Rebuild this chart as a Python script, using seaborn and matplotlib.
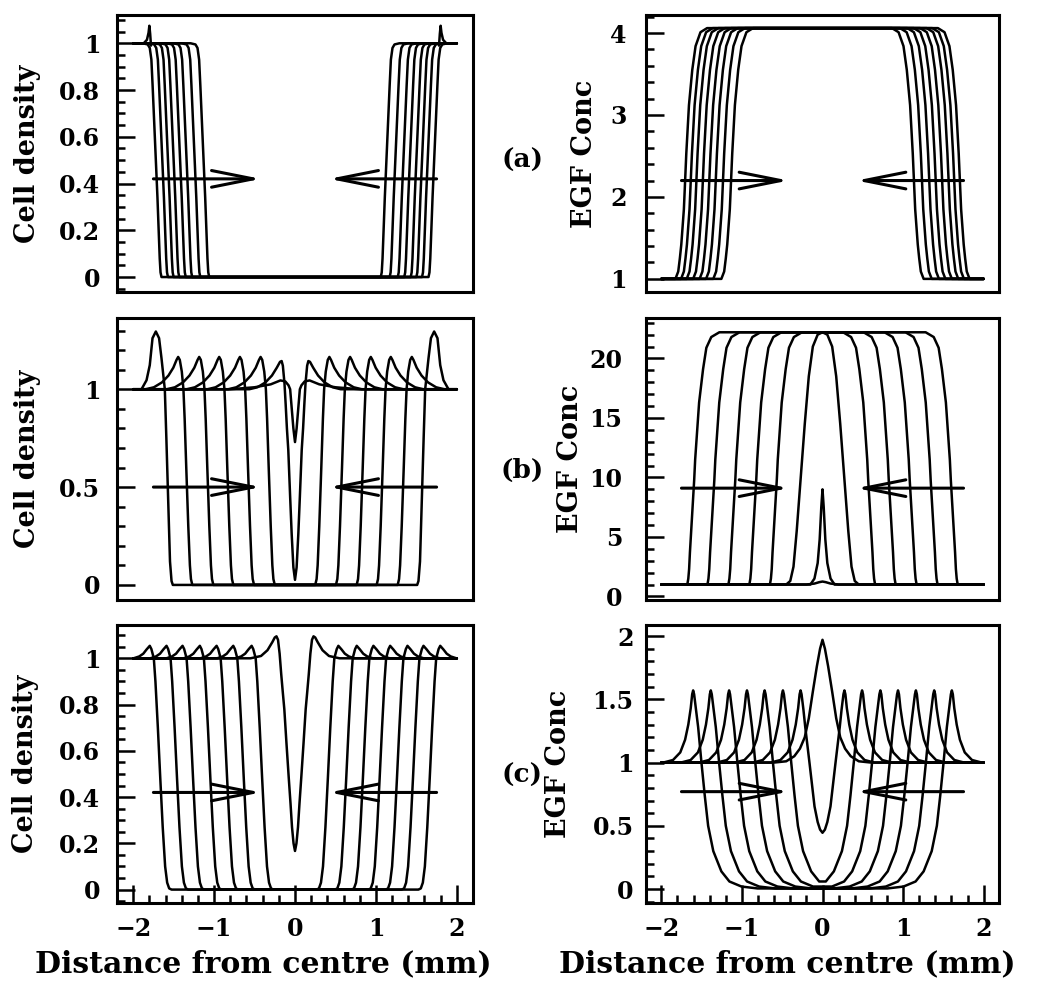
import numpy as np
import pandas as pd
import seaborn as sns
import matplotlib
matplotlib.use("Agg")
import matplotlib.pyplot as plt
from matplotlib.ticker import MultipleLocator, FuncFormatter

# x in mm. only the left half of each profile is listed, the right half
# of every panel is the mirror image of it
domain = (-2.0, 2.0)

# ---- (a) cell density: fronts at the 0.5 level + one common front shape
a_cell_fronts = [-1.72, -1.64, -1.57, -1.50, -1.42, -1.34, -1.24, -1.13]
a_cell_prof_x = [-0.16, -0.10, -0.075, -0.055, -0.04, -0.02, 0.0, 0.02, 0.035, 0.048, 0.058, 0.07]
a_cell_prof_y = [1.0, 0.995, 0.98, 0.93, 0.82, 0.66, 0.5, 0.34, 0.2, 0.08, 0.02, 0.0]
a_spike_x = [-1.87, -1.83, -1.81, -1.80, -1.79, -1.78]
a_spike_y = [1.0, 1.015, 1.045, 1.075, 1.04, 0.99]

# ---- (a) EGF
a_egf_fronts = [-1.69, -1.62, -1.55, -1.47, -1.39, -1.31, -1.22, -1.12]
a_egf_prof_x = [-0.135, -0.10, -0.08, -0.062, -0.03, 0.0, 0.033, 0.074, 0.115, 0.176, 0.258]
a_egf_prof_y = [1.0, 1.09, 1.25, 1.42, 1.85, 2.53, 3.12, 3.55, 3.84, 4.01, 4.06]

# ---- (b) cell density: peak positions + sawtooth shape
b_cell_peaks = [-1.444, -1.184, -0.937, -0.681, -0.425]
b_cell_prof_x = [-0.40, -0.30, -0.20, -0.12, -0.06, -0.02, 0.0, 0.02, 0.045, 0.065, 0.08, 0.10, 0.125, 0.145, 0.158, 0.175]
b_cell_prof_y = [1.0, 1.01, 1.035, 1.07, 1.11, 1.15, 1.165, 1.15, 1.09, 1.0, 0.85, 0.6, 0.3, 0.1, 0.03, 0.0]
b_cell_first_x = [-1.897, -1.835, -1.795, -1.761, -1.72, -1.68, -1.65, -1.63, -1.609, -1.59, -1.565, -1.545, -1.526, -1.51]
b_cell_first_y = [1.0, 1.046, 1.123, 1.261, 1.295, 1.261, 1.158, 1.081, 1.0, 0.75, 0.4, 0.12, 0.02, 0.0]
b_cell_meet_x = [-0.565, -0.465, -0.365, -0.285, -0.225, -0.185, -0.165, -0.15, -0.13, -0.115, -0.10, -0.083, -0.06, -0.041, -0.02, 0.0]
b_cell_meet_y = [1.0, 1.01, 1.035, 1.07, 1.11, 1.14, 1.144, 1.12, 1.03, 0.92, 0.8, 0.69, 0.45, 0.26, 0.09, 0.026]
b_cell_heal_x = [-0.8, -0.5, -0.3, -0.18, -0.12, -0.08, -0.06, -0.04, -0.02, 0.0]
b_cell_heal_y = [1.0, 1.01, 1.025, 1.045, 1.04, 1.02, 1.0, 0.9, 0.8, 0.73]

# ---- (b) EGF
b_egf_fronts = [-1.58, -1.33, -1.07, -0.81, -0.555]
b_egf_prof_x = [-0.106, -0.095, -0.085, -0.075, -0.065, -0.012, 0.0, 0.049, 0.098, 0.139, 0.2, 0.3]
b_egf_prof_y = [1.0, 1.1, 1.5, 2.3, 3.7, 9.8, 11.5, 16.3, 19.1, 20.9, 21.8, 22.2]
b_egf_bump_x = [-0.45, -0.40, -0.36, -0.32, -0.27, -0.22, -0.17, -0.12, -0.06, 0.0]
b_egf_bump_y = [1.0, 1.3, 2.5, 5.5, 10.0, 14.5, 18.5, 21.0, 22.0, 22.2]
b_egf_spike_x = [-0.15, -0.10, -0.06, -0.035, -0.015, 0.0]
b_egf_spike_y = [1.0, 1.5, 2.8, 4.8, 7.5, 9.0]
b_egf_flat_x = [-0.2, -0.1, -0.04, 0.0]
b_egf_flat_y = [1.0, 1.08, 1.2, 1.25]

# ---- (c) cell density
c_cell_peaks = [-1.795, -1.588, -1.39, -1.176, -0.969, -0.763, -0.536]
c_cell_prof_x = [-0.20, -0.13, -0.08, -0.04, 0.0, 0.02, 0.05, 0.07, 0.10, 0.13, 0.16, 0.19, 0.215, 0.24, 0.27]
c_cell_prof_y = [1.0, 1.008, 1.02, 1.038, 1.054, 1.04, 1.0, 0.9, 0.7, 0.48, 0.27, 0.1, 0.03, 0.005, 0.0]
c_cell_meet_x = [-0.55, -0.42, -0.34, -0.28, -0.25, -0.229, -0.21, -0.19, -0.17, -0.15, -0.132, -0.105, -0.078, -0.055, -0.037, -0.018, 0.0]
c_cell_meet_y = [1.0, 1.01, 1.035, 1.07, 1.09, 1.095, 1.08, 1.02, 0.93, 0.85, 0.78, 0.63, 0.487, 0.37, 0.27, 0.2, 0.167]

# ---- (c) EGF
c_egf_peaks = [-1.605, -1.386, -1.159, -0.937, -0.718, -0.491]
c_egf_prof_x = [-0.37, -0.25, -0.16, -0.10, -0.06, -0.03, -0.012, 0.0, 0.012, 0.035, 0.062, 0.103, 0.144, 0.186, 0.25, 0.35, 0.45, 0.6, 0.8]
c_egf_prof_y = [1.0, 1.02, 1.08, 1.18, 1.3, 1.43, 1.54, 1.57, 1.54, 1.42, 1.28, 1.0, 0.74, 0.5, 0.3, 0.14, 0.06, 0.02, 0.005]
c_egf_last_x = [-0.642, -0.522, -0.432, -0.372, -0.332, -0.302, -0.284, -0.272, -0.26, -0.237, -0.214, -0.16, -0.099, -0.06, -0.03, 0.0]
c_egf_last_y = [1.0, 1.02, 1.08, 1.18, 1.3, 1.43, 1.54, 1.57, 1.54, 1.42, 1.28, 0.99, 0.653, 0.53, 0.47, 0.445]
c_egf_centre_x = [-0.6, -0.45, -0.35, -0.28, -0.22, -0.17, -0.12, -0.07, -0.03, 0.0]
c_egf_centre_y = [1.0, 1.01, 1.05, 1.11, 1.2, 1.35, 1.56, 1.76, 1.9, 1.97]

# arrows (same x in every panel), height per panel
arrow_tail = 1.75
arrow_tip = 0.42
arrow_y = {"a_cell": 0.42, "a_egf": 2.2, "b_cell": 0.5, "b_egf": 9.1, "c_cell": 0.42, "c_egf": 0.77}


def mirrored(xs, ys):
    left = [(x, y) for x, y in zip(xs, ys) if x < 0]
    mid = [(x, y) for x, y in zip(xs, ys) if x == 0]
    right = [(-x, y) for x, y in reversed(left)]
    pts = [(domain[0], ys[0])] + left + mid + right + [(domain[1], ys[0])]
    return [p[0] for p in pts], [p[1] for p in pts]


def fronts(centres, prof_x, prof_y):
    return [mirrored([c + o for o in prof_x], prof_y) for c in centres]


def to_frame(curves):
    rows = []
    for i, (xs, ys) in enumerate(curves):
        rows += [(i, x, y) for x, y in zip(xs, ys)]
    return pd.DataFrame(rows, columns=["curve", "x", "y"])


panels = {
    "a_cell": fronts(a_cell_fronts, a_cell_prof_x, a_cell_prof_y)
              + [(a_spike_x, a_spike_y), ([-x for x in a_spike_x[::-1]], a_spike_y[::-1])],
    "a_egf": fronts(a_egf_fronts, a_egf_prof_x, a_egf_prof_y),
    "b_cell": [mirrored(b_cell_first_x, b_cell_first_y)]
              + fronts(b_cell_peaks, b_cell_prof_x, b_cell_prof_y)
              + [mirrored(b_cell_meet_x, b_cell_meet_y), mirrored(b_cell_heal_x, b_cell_heal_y)],
    "b_egf": fronts(b_egf_fronts, b_egf_prof_x, b_egf_prof_y)
             + [mirrored(b_egf_bump_x, b_egf_bump_y), mirrored(b_egf_spike_x, b_egf_spike_y),
                mirrored(b_egf_flat_x, b_egf_flat_y)],
    "c_cell": fronts(c_cell_peaks, c_cell_prof_x, c_cell_prof_y) + [mirrored(c_cell_meet_x, c_cell_meet_y)],
    "c_egf": fronts(c_egf_peaks, c_egf_prof_x, c_egf_prof_y)
             + [mirrored(c_egf_last_x, c_egf_last_y), mirrored(c_egf_centre_x, c_egf_centre_y)],
}

sns.set_theme(style="ticks")
plt.rcParams["font.family"] = ["DejaVu Serif"]
plt.rcParams["font.weight"] = "bold"
plt.rcParams["text.color"] = "black"
plt.rcParams["axes.labelcolor"] = "black"

W, H = 1038, 983
fig = plt.figure(figsize=(W / 100, H / 100), dpi=100)


def box(x0, x1, y0, y1):
    return [x0 / W, 1 - y1 / H, (x1 - x0) / W, (y1 - y0) / H]


rows_px = [(15, 292), (318, 600), (625, 903)]
cols_px = [(117, 473), (646, 999)]
layout = {
    # key: (row, col, ylim, major, minor, ylabel, label x (px), ypad)
    "a_cell": (0, 0, (-0.064, 1.121), 0.2, 0.05, "Cell density", 28, 12),
    "a_egf": (0, 1, (0.84, 4.22), 1, 0.2, "EGF Conc", 585, 14),
    "b_cell": (1, 0, (-0.077, 1.364), 0.5, 0.1, "Cell density", 28, 12),
    "b_egf": (1, 1, (-0.3, 23.4), 5, 1, "EGF Conc", 570, 17),
    "c_cell": (2, 0, (-0.058, 1.144), 0.2, 0.05, "Cell density", 26, 12),
    "c_egf": (2, 1, (-0.11, 2.087), 0.5, 0.1, "EGF Conc", 558, 9),
}
xlims = [(-2.2, 2.2), (-2.19, 2.19)]
fmt = FuncFormatter(lambda v, p: f"{v:g}".replace("-", "\u2212"))

for key, (r, c, ylim, major, minor, ylabel, lab_x, ypad) in layout.items():
    x0, x1 = cols_px[c]
    y0, y1 = rows_px[r]
    ax = fig.add_axes(box(x0, x1, y0, y1))
    sns.lineplot(data=to_frame(panels[key]), x="x", y="y", units="curve", estimator=None,
                 sort=False, color="black", lw=1.8, ax=ax, legend=False)
    for tail, tip in [(-arrow_tail, -arrow_tip), (arrow_tail, arrow_tip)]:
        ax.annotate("", xy=(tip, arrow_y[key]), xytext=(tail, arrow_y[key]),
                    arrowprops=dict(arrowstyle="->,head_length=3.0,head_width=0.6",
                                    lw=2.2, color="black", shrinkA=0, shrinkB=0,
                                    mutation_scale=10))
    ax.set_xlim(*xlims[c])
    ax.set_ylim(*ylim)
    ax.yaxis.set_major_locator(MultipleLocator(major))
    ax.yaxis.set_minor_locator(MultipleLocator(minor))
    ax.xaxis.set_major_locator(MultipleLocator(1))
    ax.xaxis.set_minor_locator(MultipleLocator(0.2))
    ax.xaxis.set_major_formatter(fmt)
    ax.yaxis.set_major_formatter(fmt)
    ax.tick_params(which="both", direction="in", top=False, right=False, width=1.8, colors="black")
    ax.tick_params(which="major", length=13)
    ax.tick_params(which="minor", length=6)
    ax.tick_params(axis="y", which="major", pad=ypad, labelsize=17)
    ax.tick_params(axis="x", which="major", pad=10, labelsize=17)
    for s in ax.spines.values():
        s.set_linewidth(2.2)
        s.set_color("black")
    ax.set_ylabel(ylabel, fontsize=19.5, fontweight="bold", va="center")
    ax.yaxis.set_label_coords((lab_x - x0) / (x1 - x0), 0.5)
    if r < 2:
        ax.tick_params(axis="x", which="both", bottom=False, labelbottom=False)
        ax.set_xlabel("")
    else:
        ax.set_xlabel("Distance from centre (mm)", fontsize=21.5, fontweight="bold", va="center")
        ax.xaxis.set_label_coords(0.41 if c == 0 else 0.40, (y1 - 964) / (y1 - y0))

for lab, ypx in [("(a)", 160), ("(b)", 470), ("(c)", 775)]:
    fig.text(522 / W, 1 - ypx / H, lab, ha="center", va="center", fontsize=19, fontweight="bold")

fig.savefig("out.png", dpi=100)
